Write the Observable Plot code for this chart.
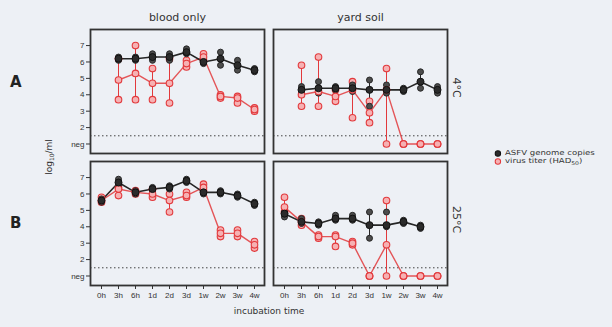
<!DOCTYPE html>
<html>
<head>
<meta charset="utf-8">
<script src="https://cdn.jsdelivr.net/npm/d3@7"></script>
<script src="https://cdn.jsdelivr.net/npm/@observablehq/plot@0.6"></script>
<style>
  html, body { margin: 0; padding: 0; background: #edf0f5; }
  #wrap { position: relative; width: 612px; height: 327px; font-family: "DejaVu Sans", sans-serif; color: #333; overflow: hidden; }
  #wrap > svg { position: absolute; left: 0; top: 0; background: transparent; }
  .lab { position: absolute; white-space: nowrap; line-height: 1; }
  .leg svg { display: block; }
</style>
</head>
<body>
<div id="wrap"></div>
<script>
// ---- categories ----
const categories = ["0h", "3h", "6h", "1d", "2d", "3d", "1w", "2w", "3w", "4w"];
const media = ["blood only", "yard soil"];
const temperatures = ["4°C", "25°C"];
const seriesNames = ["ASFV genome copies", "virus titer (HAD50)"];
const yTicks = [1, 2, 3, 4, 5, 6, 7];

// ---- blood only, 4°C ----
const bloodCold_genomeMean = [null, 6.2, 6.2, 6.3, 6.3, 6.6, 6.0, 6.2, 5.8, 5.5];
const bloodCold_genomeLo   = [null, 6.1, 6.1, 6.1, 6.1, 6.5, 5.9, 5.8, 5.5, 5.4];
const bloodCold_genomeHi   = [null, 6.3, 6.3, 6.5, 6.5, 6.8, 6.1, 6.6, 6.1, 5.6];
const bloodCold_titerMean  = [null, 4.9, 5.3, 4.7, 4.7, 5.9, 6.3, 3.9, 3.8, 3.1];
const bloodCold_titerLo    = [null, 3.7, 3.7, 3.7, 3.5, 5.7, 6.1, 3.8, 3.5, 3.0];
const bloodCold_titerHi    = [null, 6.2, 7.0, 5.6, 6.2, 6.1, 6.5, 4.0, 3.9, 3.2];

// ---- yard soil, 4°C ----
const soilCold_genomeMean = [null, 4.3, 4.4, 4.4, 4.4, 4.3, 4.3, 4.3, 4.8, 4.3];
const soilCold_genomeLo   = [null, 4.1, 4.1, 4.3, 4.2, 3.3, 4.1, 4.2, 4.4, 4.1];
const soilCold_genomeHi   = [null, 4.5, 4.8, 4.5, 4.6, 4.9, 4.6, 4.4, 5.4, 4.5];
const soilCold_titerMean  = [null, 4.0, 4.2, 3.9, 4.3, 2.9, 4.3, 1.0, 1.0, 1.0];
const soilCold_titerLo    = [null, 3.3, 3.3, 3.6, 2.6, 2.3, 1.0, 1.0, 1.0, 1.0];
const soilCold_titerHi    = [null, 5.8, 6.3, 4.3, 4.8, 3.6, 5.6, 1.0, 1.0, 1.0];

// ---- blood only, 25°C ----
const bloodWarm_genomeMean = [5.6, 6.7, 6.1, 6.3, 6.4, 6.8, 6.1, 6.1, 5.9, 5.4];
const bloodWarm_genomeLo   = [5.5, 6.5, 6.0, 6.2, 6.3, 6.7, 6.0, 6.0, 5.8, 5.3];
const bloodWarm_genomeHi   = [5.7, 6.9, 6.2, 6.4, 6.5, 6.9, 6.2, 6.2, 6.0, 5.5];
const bloodWarm_titerMean  = [5.6, 6.3, 6.1, 6.0, 5.6, 5.9, 6.4, 3.6, 3.6, 2.9];
const bloodWarm_titerLo    = [5.5, 5.9, 6.0, 5.8, 4.9, 5.8, 6.2, 3.4, 3.4, 2.7];
const bloodWarm_titerHi    = [5.8, 6.4, 6.2, 6.3, 6.0, 6.1, 6.6, 3.8, 3.8, 3.1];

// ---- yard soil, 25°C ----
const soilWarm_genomeMean = [4.8, 4.3, 4.2, 4.5, 4.5, 4.1, 4.1, 4.3, 4.0, null];
const soilWarm_genomeLo   = [4.6, 4.2, 4.1, 4.4, 4.4, 3.3, 4.0, 4.2, 3.9, null];
const soilWarm_genomeHi   = [4.9, 4.5, 4.3, 4.7, 4.7, 4.9, 4.9, 4.4, 4.1, null];
const soilWarm_titerMean  = [5.2, 4.3, 3.4, 3.4, 3.0, 1.0, 2.9, 1.0, 1.0, 1.0];
const soilWarm_titerLo    = [4.9, 4.1, 3.3, 2.8, 2.9, 1.0, 1.0, 1.0, 1.0, 1.0];
const soilWarm_titerHi    = [5.8, 4.5, 3.5, 3.5, 3.1, 1.0, 5.6, 1.0, 1.0, 1.0];

const detectionLimit = 1.5;

function panel(medium, temp, gMean, gLo, gHi, tMean, tLo, tHi) {
  const out = [];
  categories.forEach((c, i) => {
    if (gMean[i] != null) out.push({medium, temp, time: c, series: seriesNames[0], mean: gMean[i], lo: gLo[i], hi: gHi[i]});
    if (tMean[i] != null) out.push({medium, temp, time: c, series: seriesNames[1], mean: tMean[i], lo: tLo[i], hi: tHi[i]});
  });
  return out;
}

const rows = [
  ...panel("blood only", "4°C", bloodCold_genomeMean, bloodCold_genomeLo, bloodCold_genomeHi, bloodCold_titerMean, bloodCold_titerLo, bloodCold_titerHi),
  ...panel("yard soil", "4°C", soilCold_genomeMean, soilCold_genomeLo, soilCold_genomeHi, soilCold_titerMean, soilCold_titerLo, soilCold_titerHi),
  ...panel("blood only", "25°C", bloodWarm_genomeMean, bloodWarm_genomeLo, bloodWarm_genomeHi, bloodWarm_titerMean, bloodWarm_titerLo, bloodWarm_titerHi),
  ...panel("yard soil", "25°C", soilWarm_genomeMean, soilWarm_genomeLo, soilWarm_genomeHi, soilWarm_titerMean, soilWarm_titerLo, soilWarm_titerHi)
];

const genome = rows.filter(d => d.series === seriesNames[0]);
const titer = rows.filter(d => d.series === seriesNames[1]);

const BLACK = "#262626", BLACKFILL = "#4d4d4d";
const RED = "#e2393c", REDFILL = "#f6b1b3";

const fc = {fx: "medium", fy: "temp"};

const chart = Plot.plot({
  width: 612,
  height: 327,
  marginLeft: 90,
  marginRight: 165,
  marginTop: 28,
  marginBottom: 41,
  style: {background: "transparent", fontFamily: "Liberation Sans, Arial, sans-serif", fontSize: "8px", color: "#333"},
  fx: {domain: media, padding: 0.05, label: null},
  fy: {domain: temperatures, padding: 0.06, label: null},
  x: {type: "point", domain: categories, padding: 0.52, label: null, tickSize: 4, tickPadding: 3},
  y: {domain: [0.42, 7.98], ticks: yTicks, tickFormat: d => d === 1 ? "neg" : String(d), label: null, tickSize: 4, tickPadding: 2},
  marks: [
    Plot.axisFx({anchor: "top", label: null, tickSize: 0, tickPadding: 9, fontSize: 11, fontFamily: "DejaVu Sans"}),
    Plot.axisFy({anchor: "right", label: null, tickSize: 0, tickPadding: 13, tickRotate: 90, fontSize: 11, dy: -4, fontFamily: "DejaVu Sans"}),
    Plot.ruleY([detectionLimit], {stroke: "#444", strokeWidth: 1, strokeDasharray: "1.5,2.5"}),
    // error bars
    Plot.ruleX(genome, {...fc, x: "time", y1: "lo", y2: "hi", stroke: BLACK, strokeWidth: 1}),
    Plot.ruleX(titer, {...fc, x: "time", y1: "lo", y2: "hi", stroke: RED, strokeWidth: 1}),
    // mean lines
    Plot.line(titer, {...fc, x: "time", y: "mean", stroke: RED, strokeWidth: 1.4, strokeOpacity: 0.85}),
    Plot.line(genome, {...fc, x: "time", y: "mean", stroke: BLACK, strokeWidth: 1.6}),
    // replicate extremes
    Plot.dot(titer, {...fc, x: "time", y: "lo", r: 3.3, stroke: RED, fill: REDFILL, strokeWidth: 1.1}),
    Plot.dot(titer, {...fc, x: "time", y: "hi", r: 3.3, stroke: RED, fill: REDFILL, strokeWidth: 1.1}),
    Plot.dot(genome, {...fc, x: "time", y: "lo", r: 3, stroke: BLACK, fill: BLACKFILL, strokeWidth: 1}),
    Plot.dot(genome, {...fc, x: "time", y: "hi", r: 3, stroke: BLACK, fill: BLACKFILL, strokeWidth: 1}),
    // means
    Plot.dot(titer, {...fc, x: "time", y: "mean", r: 3.3, stroke: RED, fill: REDFILL, strokeWidth: 1.1}),
    Plot.dot(genome, {...fc, x: "time", y: "mean", r: 3.5, stroke: "#111", fill: "#2b2b2b", strokeWidth: 1}),
    Plot.frame({stroke: "#333", strokeWidth: 1.8})
  ]
});

const wrap = document.getElementById("wrap");
wrap.appendChild(chart);

function label(text, css, html) {
  const el = document.createElement("div");
  el.className = "lab";
  if (html) el.innerHTML = text; else el.textContent = text;
  Object.assign(el.style, css);
  wrap.appendChild(el);
  return el;
}

label("A", {left: "10px", top: "75px", fontSize: "15px", fontWeight: "bold", color: "#222"});
label("B", {left: "10px", top: "216px", fontSize: "15px", fontWeight: "bold", color: "#222"});
label("log<sub style='font-size:6px'>10</sub>/ml", {left: "50px", top: "157px", fontSize: "9px", transform: "translate(-50%,-50%) rotate(-90deg)"}, true);
label("incubation time", {left: "269px", top: "307px", fontSize: "9px", transform: "translateX(-50%)"});

// legend
const legend = document.createElement("div");
legend.className = "lab leg";
Object.assign(legend.style, {left: "494px", top: "149px", fontSize: "7px", transform: "scaleX(1.22)", transformOrigin: "0 0"});
legend.innerHTML =
  `<div style="display:flex;align-items:center;height:8px"><svg width="7" height="7" style="overflow:visible"><circle cx="3.2" cy="3.5" r="2.7" fill="#2b2b2b" stroke="#111" transform="translate(3.2,3.5) scale(0.82,1) translate(-3.2,-3.5)"/></svg><span style="margin-left:2px">${seriesNames[0]}</span></div>` +
  `<div style="display:flex;align-items:center;height:8px"><svg width="7" height="7" style="overflow:visible"><circle cx="3.2" cy="3.5" r="2.7" fill="${REDFILL}" stroke="${RED}" transform="translate(3.2,3.5) scale(0.82,1) translate(-3.2,-3.5)"/></svg><span style="margin-left:2px">virus titer (HAD<sub style="font-size:5px;line-height:0">50</sub>)</span></div>`;
wrap.appendChild(legend);
</script>
</body>
</html>
